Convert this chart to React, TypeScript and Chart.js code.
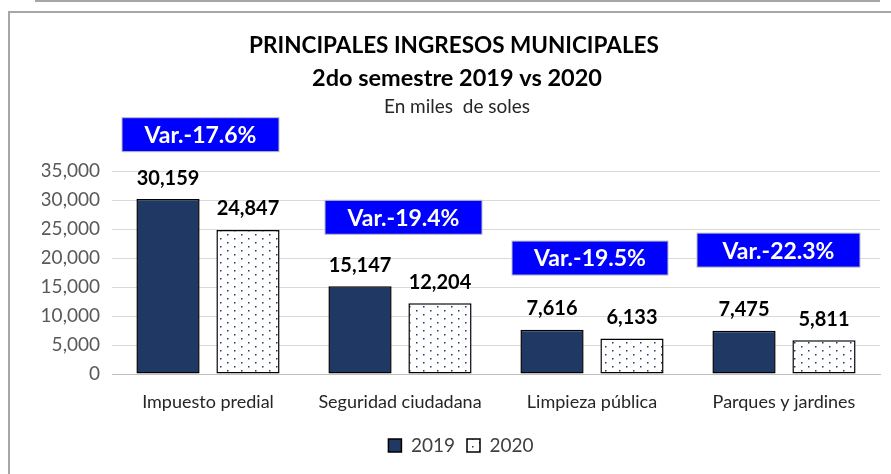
import React, { useEffect, useRef } from "react";
import { Chart, registerables } from "chart.js";

Chart.register(...registerables);

const categories = ["Impuesto predial", "Seguridad ciudadana", "Limpieza pública", "Parques y jardines"];
const values2019 = [30159, 15147, 7616, 7475];
const values2020 = [24847, 12204, 6133, 5811];
const seriesLabels = ["2019", "2020"];
const yTicks = [0, 5000, 10000, 15000, 20000, 25000, 30000, 35000];
const varLabels = ["Var.-17.6%", "Var.-19.4%", "Var.-19.5%", "Var.-22.3%"];
const titleLines = ["PRINCIPALES INGRESOS MUNICIPALES", "2do semestre 2019 vs 2020"];
const subtitleText = "En miles  de soles";

// annotation placement (value-space y center, pixel x offset, box width)
const varBoxY = [41260, 27020, 19990, 21360];
const varBoxDx = [-7.5, 3.5, -2, -5.5];
const varBoxW = [157, 157, 156, 163];

const FONT = "Lato, 'Open Sans', sans-serif";
const NAVY = "#203864";

function makePattern(): CanvasPattern | string {
  const c = document.createElement("canvas");
  c.width = 14;
  c.height = 8;
  const x = c.getContext("2d");
  if (!x) return "#fff";
  x.fillStyle = "#ffffff";
  x.fillRect(0, 0, 14, 8);
  x.fillStyle = NAVY;
  x.fillRect(3, 2, 1.5, 1.5);
  x.fillRect(10, 6, 1.5, 1.5);
  const p = x.createPattern(c, "repeat");
  return p || "#fff";
}

export default function App() {
  const ref = useRef<HTMLCanvasElement | null>(null);

  useEffect(() => {
    if (!ref.current) return;
    const pattern = makePattern();

    const framePlugin = {
      id: "frame",
      beforeDraw(chart: any) {
        const ctx = chart.ctx;
        ctx.save();
        ctx.fillStyle = "#ffffff";
        ctx.fillRect(0, 0, chart.width, chart.height);
        ctx.strokeStyle = "#a6a6a6";
        ctx.lineWidth = 2;
        ctx.beginPath();
        ctx.moveTo(35, 1);
        ctx.lineTo(880, 1);
        ctx.stroke();
        ctx.beginPath();
        ctx.moveTo(9, 474);
        ctx.lineTo(9, 12);
        ctx.lineTo(891, 12);
        ctx.stroke();
        ctx.restore();
      },
    };

    const textPlugin = {
      id: "texts",
      afterDraw(chart: any) {
        const ctx = chart.ctx;
        ctx.save();
        ctx.textAlign = "center";
        ctx.textBaseline = "middle";
        ctx.fillStyle = "#000000";
        ctx.font = `bold 22.5px ${FONT}`;
        ctx.fillText(titleLines[0], 454, 46);
        ctx.font = `bold 23.5px ${FONT}`;
        ctx.fillText(titleLines[1], 457, 78);
        ctx.font = `19px ${FONT}`;
        ctx.fillStyle = "#262626";
        ctx.fillText(subtitleText, 457, 107);

        // data labels
        ctx.font = `bold 20px ${FONT}`;
        ctx.fillStyle = "#000000";
        chart.data.datasets.forEach((ds: any, di: number) => {
          const meta = chart.getDatasetMeta(di);
          meta.data.forEach((bar: any, i: number) => {
            ctx.fillText(Number(ds.data[i]).toLocaleString("en-US"), bar.x, bar.y - 21);
          });
        });

        // variation boxes
        const xs = chart.scales.x;
        const ys = chart.scales.y;
        varLabels.forEach((t, i) => {
          const cx = xs.getPixelForValue(i) + varBoxDx[i];
          const cy = ys.getPixelForValue(varBoxY[i]);
          const w = varBoxW[i];
          const h = 34;
          ctx.fillStyle = "#0000ff";
          ctx.fillRect(cx - w / 2, cy - h / 2, w, h);
          ctx.strokeStyle = "#bfbfbf";
          ctx.lineWidth = 1;
          ctx.strokeRect(cx - w / 2, cy - h / 2, w, h);
          ctx.fillStyle = "#ffffff";
          ctx.font = `bold 23px ${FONT}`;
          ctx.fillText(t, cx, cy + 1);
        });
        ctx.restore();
      },
    };

    const chart = new Chart(ref.current, {
      type: "bar",
      data: {
        labels: categories,
        datasets: [
          {
            label: seriesLabels[0],
            data: values2019,
            backgroundColor: NAVY,
            borderColor: "#000000",
            borderWidth: 1.5,
            borderSkipped: false,
            categoryPercentage: 0.833,
            barPercentage: 0.79,
          },
          {
            label: seriesLabels[1],
            data: values2020,
            backgroundColor: pattern as any,
            borderColor: "#000000",
            borderWidth: 1.5,
            borderSkipped: false,
            categoryPercentage: 0.833,
            barPercentage: 0.79,
          },
        ],
      },
      options: {
        animation: false,
        responsive: false,
        maintainAspectRatio: false,
        layout: { padding: { left: 42, right: 11, top: 171, bottom: 9 } },
        plugins: {
          title: { display: false },
          tooltip: { enabled: false },
          legend: {
            display: true,
            position: "bottom",
            labels: {
              boxWidth: 13,
              boxHeight: 13,
              padding: 12,
              color: "#404040",
              font: { family: FONT, size: 19 },
            },
          },
        },
        scales: {
          x: {
            grid: { display: false, drawTicks: false },
            border: { display: true, color: "#bfbfbf", width: 1 },
            ticks: { color: "#262626", padding: 17, font: { family: FONT, size: 18 } },
            afterFit(scale: any) {
              scale.height = 50;
            },
          },
          y: {
            min: 0,
            max: 35000,
            afterBuildTicks(scale: any) {
              scale.ticks = yTicks.map((v) => ({ value: v }));
            },
            grid: { color: "#d9d9d9", drawTicks: false, lineWidth: 1 },
            border: { display: false },
            ticks: {
              color: "#595959",
              padding: 12,
              font: { family: FONT, size: 19 },
              callback: (v: any) => Number(v).toLocaleString("en-US"),
            },
            afterFit(scale: any) {
              scale.width = 70;
            },
          },
        },
      },
      plugins: [framePlugin, textPlugin],
    });
    return () => chart.destroy();
  }, []);

  return (
    <div style={{ position: "fixed", left: 0, top: 0, width: 891, height: 474, background: "#fff" }}>
      <canvas ref={ref} width={891} height={474} style={{ display: "block", width: 891, height: 474 }} />
    </div>
  );
}
